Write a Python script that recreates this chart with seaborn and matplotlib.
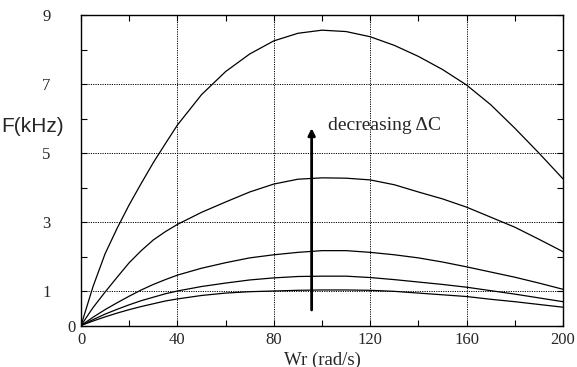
import numpy as np
import pandas as pd
import seaborn as sns
import matplotlib
matplotlib.use("Agg")
import matplotlib.pyplot as plt
from matplotlib.ticker import MultipleLocator, FixedLocator

# Rotor speed samples (rad/s)
wr = [0, 5, 10, 15, 20, 25, 30, 35, 40, 50, 60, 70, 80, 90, 100, 110, 120,
      130, 140, 150, 160, 170, 180, 190, 200]

# Frequency F (kHz) for five values of the capacitance change (top curve = smallest dC)
f_c1 = [0, 1.13, 2.08, 2.82, 3.5, 4.12, 4.72, 5.27, 5.81, 6.69, 7.36, 7.87,
        8.25, 8.47, 8.56, 8.52, 8.37, 8.12, 7.8, 7.42, 6.97, 6.4, 5.72, 5.0,
        4.25]
f_c2 = [0, 0.52, 0.97, 1.4, 1.82, 2.17, 2.48, 2.72, 2.93, 3.28, 3.58, 3.87,
        4.1, 4.24, 4.28, 4.27, 4.22, 4.08, 3.87, 3.67, 3.43, 3.14, 2.85, 2.5,
        2.14]
f_c3 = [0, 0.24, 0.46, 0.66, 0.85, 1.03, 1.19, 1.33, 1.46, 1.66, 1.82, 1.96,
        2.05, 2.12, 2.17, 2.17, 2.12, 2.05, 1.96, 1.84, 1.7, 1.55, 1.4, 1.23,
        1.05]
f_c4 = [0, 0.17, 0.33, 0.47, 0.6, 0.72, 0.82, 0.92, 1.0, 1.13, 1.23, 1.32,
        1.38, 1.42, 1.43, 1.43, 1.39, 1.33, 1.26, 1.19, 1.11, 1.01, 0.91, 0.8,
        0.69]
f_c5 = [0, 0.13, 0.25, 0.36, 0.46, 0.55, 0.63, 0.71, 0.77, 0.87, 0.94, 0.98,
        1.0, 1.02, 1.03, 1.03, 1.02, 0.99, 0.94, 0.89, 0.84, 0.76, 0.69, 0.61,
        0.53]

curve_names = ["c1", "c2", "c3", "c4", "c5"]
curves = [f_c1, f_c2, f_c3, f_c4, f_c5]

x_ticks = [0, 40, 80, 120, 160, 200]
y_ticks = [0, 1, 3, 5, 7, 9]
y_tick_labels = ["", "1", "3", "5", "7", "9"]

arrow_x = 95.7
arrow_from = 0.45
arrow_to = 5.72
note_text = "decreasing \u0394C"

df = pd.concat(
    [pd.DataFrame({"Wr": wr, "F": vals, "curve": name})
     for name, vals in zip(curve_names, curves)],
    ignore_index=True,
)

sns.set_style("white")
plt.rcParams["font.family"] = ["Liberation Serif", "DejaVu Serif"]

fig = plt.figure(figsize=(5.77, 3.67), dpi=100)
ax = fig.add_axes([81 / 577, 1 - 325.5 / 367, 482 / 577, 310.5 / 367])

sns.lineplot(data=df, x="Wr", y="F", hue="curve",
             palette=["black"] * len(curve_names), legend=False,
             linewidth=0.9, ax=ax, sort=True, errorbar=None)

ax.set_xlim(0, 200)
ax.set_ylim(0, 9)

ax.xaxis.set_major_locator(FixedLocator(x_ticks))
ax.yaxis.set_major_locator(FixedLocator(y_ticks))
ax.set_xticklabels([str(v) for v in x_ticks])
ax.set_yticklabels(y_tick_labels)
ax.xaxis.set_minor_locator(MultipleLocator(20))
ax.yaxis.set_minor_locator(MultipleLocator(1))

ax.tick_params(which="both", direction="in", top=True, right=True,
               bottom=True, left=True, length=4, width=0.8, color="black")
ax.tick_params(axis="x", which="major", labelsize=12, pad=5)
ax.tick_params(axis="y", which="major", labelsize=12, pad=22)

ax.grid(True, which="major", color="black", linestyle=(0, (1.2, 1.2)),
        linewidth=0.7)
for s in ax.spines.values():
    s.set_visible(True)
    s.set_color("black")
    s.set_linewidth(1.0)

# origin label on the y axis sits close to the corner
ax.annotate("0", xy=(0, 0), xycoords=("axes fraction", "data"),
            xytext=(-4, -2), textcoords="offset points",
            ha="right", va="center", fontsize=12)

ax.set_xlabel("Wr (rad/s)", fontsize=13.5, labelpad=2)
ax.set_ylabel("")
fig.text(33 / 577, 1 - 127 / 367, "F(kHz)", ha="center", va="center",
         fontsize=15, family=["Liberation Sans", "DejaVu Sans"])

ax.annotate("", xy=(arrow_x, arrow_to), xytext=(arrow_x, arrow_from),
            arrowprops=dict(arrowstyle="-|>", lw=2, color="black",
                            mutation_scale=10, shrinkA=0, shrinkB=0))
ax.text(102.5, 5.8, note_text, fontsize=14, ha="left", va="center")

fig.savefig("out.png", dpi=100)
